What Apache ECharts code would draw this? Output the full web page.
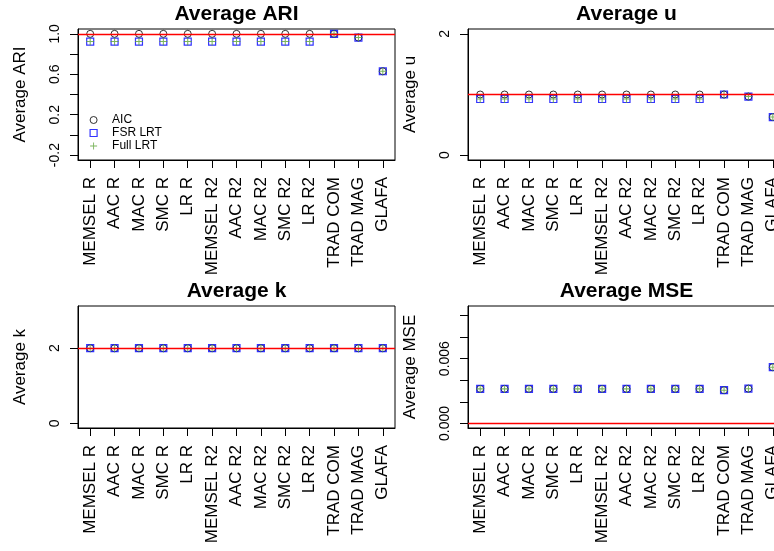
<!DOCTYPE html>
<html><head><meta charset="utf-8">
<script src="https://cdn.jsdelivr.net/npm/echarts@6/dist/echarts.min.js"></script>
<style>html,body{margin:0;padding:0;background:#fff}#c{width:774px;height:551px}</style>
</head><body><div id="c"></div>
<script>
// ---- data ----
const categories = ['MEMSEL R','AAC R','MAC R','SMC R','LR R','MEMSEL R2','AAC R2','MAC R2','SMC R2','LR R2','TRAD COM','TRAD MAG','GLAFA'];
const seriesNames = ['AIC','FSR LRT','Full LRT'];

const ariAIC  = [1.0,1.0,1.0,1.0,1.0,1.0,1.0,1.0,1.0,1.0,1.0,0.963,0.63];
const ariFSR  = [0.924,0.924,0.924,0.924,0.924,0.924,0.924,0.924,0.924,0.924,1.0,0.963,0.63];
const ariFull = [0.924,0.924,0.924,0.924,0.924,0.924,0.924,0.924,0.924,0.924,1.0,0.963,0.63];

const uAIC  = [1.0,1.0,1.0,1.0,1.0,1.0,1.0,1.0,1.0,1.0,1.0,0.966,0.628];
const uFSR  = [0.926,0.926,0.926,0.926,0.926,0.926,0.926,0.926,0.926,0.926,1.0,0.966,0.628];
const uFull = [0.926,0.926,0.926,0.926,0.926,0.926,0.926,0.926,0.926,0.926,1.0,0.966,0.628];

const kAIC  = [2,2,2,2,2,2,2,2,2,2,2,2,2];
const kFSR  = [2,2,2,2,2,2,2,2,2,2,2,2,2];
const kFull = [2,2,2,2,2,2,2,2,2,2,2,2,2];

const mseAIC  = [0.0032,0.0032,0.0032,0.0032,0.0032,0.0032,0.0032,0.0032,0.0032,0.0032,0.00308,0.00322,0.00521];
const mseFSR  = [0.0032,0.0032,0.0032,0.0032,0.0032,0.0032,0.0032,0.0032,0.0032,0.0032,0.00308,0.00322,0.00521];
const mseFull = [0.0032,0.0032,0.0032,0.0032,0.0032,0.0032,0.0032,0.0032,0.0032,0.0032,0.00308,0.00322,0.00521];

const ariTicks  = [-0.2,0,0.2,0.4,0.6,0.8,1.0];
const ariLabels = [-0.2,0.2,0.6,1.0];
const uTicks    = [0,2];
const uLabels   = [0,2];
const kTicks    = [0,2];
const kLabels   = [0,2];
const mseTicks  = [0,0.002,0.004,0.006,0.008,0.010];
const mseLabels = [0,0.006];

const refARI = 1, refU = 1, refK = 2, refMSE = 0;

// ---- layout / style ----
const FONT = 'Liberation Sans, Arial, Helvetica, sans-serif';
const panels = [
  {title:'Average ARI', yname:'Average ARI', grid:{left:78,top:29,width:317,height:131}, min:-0.248, max:1.048,
   ticks:ariTicks, labels:ariLabels, fmt:v=>v.toFixed(1), ref:refARI, data:[ariAIC,ariFSR,ariFull]},
  {title:'Average u', yname:'Average u', grid:{left:468,top:29,width:317,height:131}, min:-0.08, max:2.08,
   ticks:uTicks, labels:uLabels, fmt:v=>String(v), ref:refU, data:[uAIC,uFSR,uFull]},
  {title:'Average k', yname:'Average k', grid:{left:78,top:306,width:317,height:122}, min:-0.12, max:3.12,
   ticks:kTicks, labels:kLabels, fmt:v=>String(v), ref:refK, data:[kAIC,kFSR,kFull]},
  {title:'Average MSE', yname:'Average MSE', grid:{left:468,top:306,width:317,height:122}, min:-0.00042, max:0.01087,
   ticks:mseTicks, labels:mseLabels, fmt:v=>v.toFixed(3), ref:refMSE, data:[mseAIC,mseFSR,mseFull]}
];

const GREEN = '#5ba234';
const PLUS = 'path://M-1,-0.13 H1 V0.13 H-1 Z M-0.13,-1 H0.13 V1 H-0.13 Z';
const symStyles = [
  {symbol:'circle', symbolSize:7, itemStyle:{color:'rgba(0,0,0,0)', borderColor:'#000', borderWidth:1}},
  {symbol:'rect', symbolSize:7, itemStyle:{color:'rgba(0,0,0,0)', borderColor:'#0000ff', borderWidth:1.2}},
  {symbol:PLUS, symbolSize:8, itemStyle:{color:GREEN}}
];

const grids = [], xAxes = [], yAxes = [], series = [], graphics = [];
panels.forEach((p, i) => {
  grids.push(Object.assign({show:true, borderColor:'#000', borderWidth:1, containLabel:false, outerBoundsMode:'none'}, p.grid));
  xAxes.push({
    type:'category', gridIndex:i, data:categories, boundaryGap:true,
    axisLine:{show:true, onZero:false, lineStyle:{color:'#000', width:1}},
    axisTick:{show:true, alignWithLabel:true, length:8, lineStyle:{color:'#000'}},
    axisLabel:{rotate:90, interval:0, margin:17, fontSize:17, color:'#000', fontFamily:FONT},
    splitLine:{show:false}
  });
  yAxes.push({
    type:'value', gridIndex:i, min:p.min, max:p.max,
    name:p.yname, nameLocation:'middle', nameGap:49,
    nameTextStyle:{fontSize:17, color:'#000', fontFamily:FONT},
    axisLine:{show:true, lineStyle:{color:'#000', width:1}},
    axisTick:{show:true, length:8, lineStyle:{color:'#000'}, customValues:p.ticks},
    axisLabel:{rotate:90, margin:16, fontSize:14, color:'#000', fontFamily:FONT, customValues:p.labels, formatter:p.fmt},
    splitLine:{show:false}
  });
  p.data.forEach((arr, s) => {
    const ser = Object.assign({
      type:'scatter', name:seriesNames[s], xAxisIndex:i, yAxisIndex:i,
      data:arr.map((v, j) => [categories[j], v]), z:2+s, silent:true
    }, symStyles[s]);
    if (s === 2) {
      ser.markLine = {silent:true, symbol:['none','none'], label:{show:false},
        lineStyle:{color:'#ff0000', width:1.3, type:'solid'}, data:[{yAxis:p.ref}], animation:false};
    }
    series.push(ser);
  });
  graphics.push({type:'text', x:p.grid.left + p.grid.width/2, y:(i<2 ? 14.5 : 291),
    style:{text:p.title, font:'bold 21px ' + FONT, fill:'#000', textAlign:'center', textVerticalAlign:'middle'}});
});

const option = {
  animation:false,
  backgroundColor:'#fff',
  grid:grids, xAxis:xAxes, yAxis:yAxes, series:series,
  graphic:graphics,
  legend:{
    orient:'vertical', left:89.5, top:113.5, padding:0, itemWidth:7, itemHeight:7, itemGap:0,
    selectedMode:false,
    textStyle:{fontSize:12, color:'#000', fontFamily:FONT, lineHeight:13, padding:[0,0,0,10]},
    data:[
      {name:'AIC', icon:'circle', itemStyle:{color:'rgba(0,0,0,0)', borderColor:'#000', borderWidth:1}},
      {name:'FSR LRT', icon:'rect', itemStyle:{color:'rgba(0,0,0,0)', borderColor:'#0000ff', borderWidth:1.2}},
      {name:'Full LRT', icon:PLUS, itemStyle:{color:GREEN}}
    ]
  }
};
const chart = echarts.init(document.getElementById('c'), null, {renderer:'canvas'});
chart.setOption(option);
</script></body></html>
